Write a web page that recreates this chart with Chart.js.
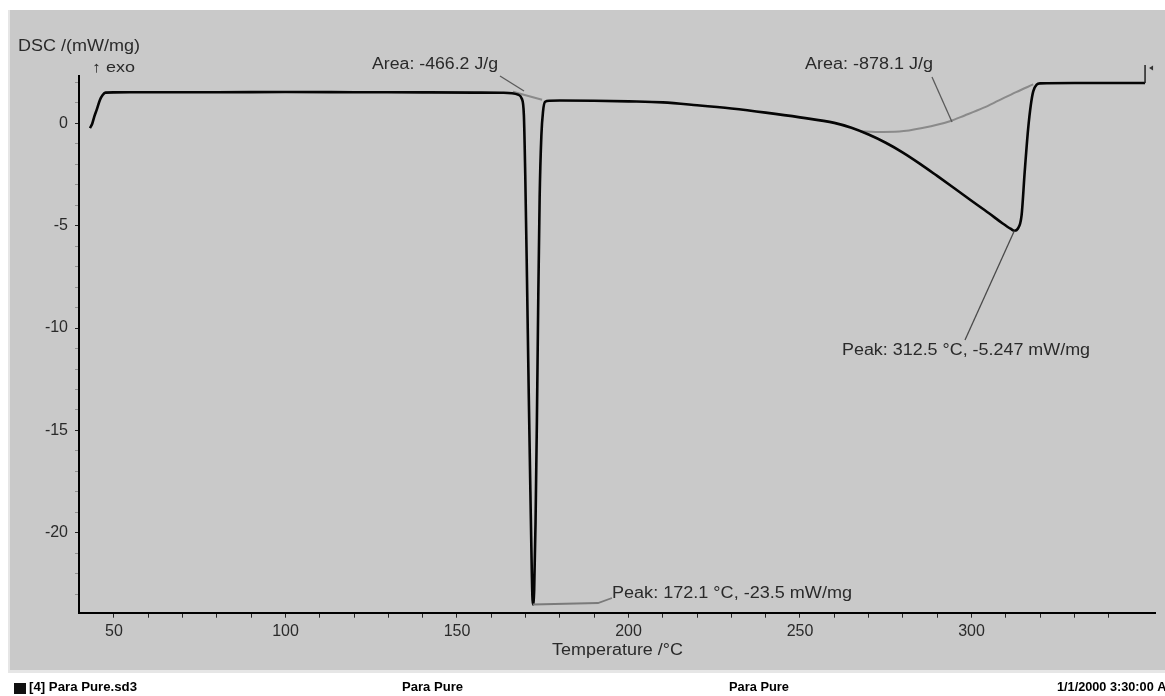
<!DOCTYPE html>
<html>
<head>
<meta charset="utf-8">
<title>DSC - Para Pure</title>
<script src="https://cdn.jsdelivr.net/npm/chart.js@4.4.1/dist/chart.umd.min.js"></script>
<style>
  html, body { margin: 0; padding: 0; background: #fff; overflow: hidden; }
  #dsc { display: block; }
</style>
</head>
<body>
<canvas id="dsc" width="1165" height="696"></canvas>
<script>
"use strict";

// measured DSC curve (temperature in °C, DSC in mW/mg)
const curveTemp = [43.0, 43.6, 44.3, 45.0, 45.9, 46.7, 47.5, 50, 60, 80, 100, 120, 140, 155, 163, 166,
  167.8, 168.9, 169.5, 169.9, 170.4, 170.9, 171.4, 171.8, 172.1, 172.5, 172.9, 173.3, 173.7, 174.1,
  174.6, 175.1, 175.7, 177, 180, 190, 200, 210, 220, 230, 240, 250, 260, 265, 270, 275, 280, 285, 290,
  295, 300, 305, 309, 311.5, 312.5, 313.5, 314.6, 315.5, 316.5, 317.3, 318, 319, 320, 330, 340, 350.6];
const curveDsc = [-0.23, -0.05, 0.35, 0.68, 1.14, 1.38, 1.5, 1.51, 1.52, 1.52, 1.53, 1.52, 1.51, 1.5, 1.49, 1.47,
  1.4, 1.2, 0.4, -2.5, -7.5, -13, -18, -21.8, -23.5, -22.8, -19.5, -14.5, -8.5, -3.6,
  -0.6, 0.6, 1.05, 1.1, 1.11, 1.1, 1.07, 1.02, 0.88, 0.72, 0.52, 0.29, 0.02, -0.22, -0.55, -0.95, -1.43, -1.98, -2.57,
  -3.17, -3.78, -4.38, -4.88, -5.16, -5.247, -5.15, -4.5, -2.4, -0.3, 0.9, 1.56, 1.89, 1.95, 1.97, 1.97, 1.97];

// integration baselines of the two peaks
const base1Temp = [166.3, 174.8];
const base1Dsc = [1.54, 1.15];
const base2Temp = [267.5, 272, 279, 286, 293.7, 298, 303.4, 308, 313, 318];
const base2Dsc = [-0.39, -0.42, -0.4, -0.22, 0.1, 0.38, 0.75, 1.12, 1.52, 1.9];

// axis ticks
const xTicks = [50, 60, 70, 80, 90, 100, 110, 120, 130, 140, 150, 160, 170, 180, 190, 200, 210, 220,
  230, 240, 250, 260, 270, 280, 290, 300, 310, 320, 330, 340];
const xLabels = [50, 100, 150, 200, 250, 300];
const yTicks = [-23, -22, -21, -20, -19, -18, -17, -16, -15, -14, -13, -12, -11, -10, -9, -8, -7, -6,
  -5, -4, -3, -2, -1, 0, 1, 2];
const yLabels = [0, -5, -10, -15, -20];

const FONT = "'Liberation Sans', Arial, sans-serif";
const TEXT = "#2a2a2a";

const toPoints = (xs, ys) => xs.map((x, i) => ({ x, y: ys[i] }));

function fitText(ctx, text, left, cy, width, font) {
  ctx.save();
  ctx.font = font;
  const w = ctx.measureText(text).width;
  ctx.translate(left, cy);
  ctx.scale(width / w, 1);
  ctx.textBaseline = "middle";
  ctx.textAlign = "left";
  ctx.fillText(text, 0, 0);
  ctx.restore();
}

function line(ctx, pts, color, width) {
  ctx.save();
  ctx.strokeStyle = color;
  ctx.lineWidth = width;
  ctx.beginPath();
  pts.forEach(([x, y], i) => (i ? ctx.lineTo(x, y) : ctx.moveTo(x, y)));
  ctx.stroke();
  ctx.restore();
}

const panel = {
  id: "panel",
  beforeDraw(chart) {
    const ctx = chart.ctx;
    ctx.save();
    ctx.fillStyle = "#ffffff";
    ctx.fillRect(0, 0, chart.width, chart.height);
    ctx.fillStyle = "#c9c9c9";
    ctx.fillRect(8, 10, chart.width - 8, 660);
    ctx.fillStyle = "#e6e6e6";
    ctx.fillRect(8, 10, 2, 662);
    ctx.fillRect(8, 670, chart.width - 8, 3);
    ctx.restore();
  },
  afterDatasetsDraw(chart) {
    const ctx = chart.ctx;
    const { x, y } = chart.scales;
    const px = (t, v) => [x.getPixelForValue(t), y.getPixelForValue(v)];

    // leader lines
    line(ctx, [[500, 76], [524, 91]], "#5a5a5a", 1.3);
    line(ctx, [[932, 77], [952, 122]], "#5a5a5a", 1.3);
    line(ctx, [px(312.5, -5.247), [965, 340]], "#4a4a4a", 1.3);
    line(ctx, [px(172.1, -23.5), [598, 603], [612, 598]], "#7a7a7a", 1.8);

    // end of measurement marker
    const end = px(curveTemp[curveTemp.length - 1], curveDsc[curveDsc.length - 1]);
    line(ctx, [end, [end[0], 65]], "#222", 1.5);
    ctx.save();
    ctx.fillStyle = "#333";
    ctx.beginPath();
    ctx.moveTo(end[0] + 4, 68);
    ctx.lineTo(end[0] + 8, 65.5);
    ctx.lineTo(end[0] + 8, 70.5);
    ctx.closePath();
    ctx.fill();
    ctx.restore();

    ctx.fillStyle = TEXT;
    fitText(ctx, "DSC /(mW/mg)", 18, 47, 122, "16px " + FONT);
    fitText(ctx, "\u2191 exo", 92, 68, 43, "15px " + FONT);
    fitText(ctx, "Area: -466.2 J/g", 372, 65, 126, "16px " + FONT);
    fitText(ctx, "Area: -878.1 J/g", 805, 65, 128, "16px " + FONT);
    fitText(ctx, "Peak: 312.5 \u00b0C, -5.247 mW/mg", 842, 351, 248, "16px " + FONT);
    fitText(ctx, "Peak: 172.1 \u00b0C, -23.5 mW/mg", 612, 594, 240, "16px " + FONT);
    fitText(ctx, "Temperature /\u00b0C", 552, 651, 131, "16px " + FONT);

    // status bar
    ctx.fillStyle = "#111";
    ctx.fillRect(14, 683, 12, 11);
    ctx.fillStyle = "#000";
    fitText(ctx, "[4] Para Pure.sd3", 29, 688, 108, "bold 12px " + FONT);
    fitText(ctx, "Para Pure", 402, 688, 61, "bold 12px " + FONT);
    fitText(ctx, "Para Pure", 729, 688, 60, "bold 12px " + FONT);
    fitText(ctx, "1/1/2000 3:30:00 AM", 1057, 688, 120, "bold 12px " + FONT);
  }
};

new Chart(document.getElementById("dsc"), {
  type: "line",
  data: {
    datasets: [
      {
        data: toPoints(curveTemp, curveDsc),
        borderColor: "#050505",
        borderWidth: 2.6,
        pointRadius: 0,
        cubicInterpolationMode: "monotone"
      },
      {
        data: toPoints(base1Temp, base1Dsc),
        borderColor: "#8a8a8a",
        borderWidth: 2,
        pointRadius: 0
      },
      {
        data: toPoints(base2Temp, base2Dsc),
        borderColor: "#8a8a8a",
        borderWidth: 2,
        pointRadius: 0,
        cubicInterpolationMode: "monotone"
      }
    ]
  },
  options: {
    responsive: false,
    devicePixelRatio: 1,
    animation: false,
    layout: { padding: { top: 76, right: 10, left: 0, bottom: 0 } },
    plugins: { legend: { display: false }, tooltip: { enabled: false } },
    scales: {
      x: {
        type: "linear",
        min: 39.8,
        max: 353.5,
        afterFit: scale => { scale.height = 83.3; },
        afterBuildTicks: scale => { scale.ticks = xTicks.map(value => ({ value })); },
        border: { display: true, color: "#000", width: 2 },
        grid: { drawOnChartArea: false, drawTicks: true, tickLength: 5, color: "#222" },
        ticks: {
          autoSkip: false,
          maxRotation: 0,
          padding: 4,
          color: TEXT,
          font: { family: FONT, size: 16 },
          callback: v => (xLabels.includes(v) ? String(v) : "")
        }
      },
      y: {
        min: -23.9,
        max: 2.31,
        afterFit: scale => { scale.width = 79; },
        afterBuildTicks: scale => { scale.ticks = yTicks.map(value => ({ value })); },
        border: { display: true, color: "#000", width: 2 },
        grid: {
          drawOnChartArea: false,
          drawTicks: true,
          tickLength: 4,
          color: ctx => (yLabels.includes(ctx.tick?.value) ? "#222" : "rgba(40,40,40,0.35)")
        },
        ticks: {
          autoSkip: false,
          padding: 7,
          color: TEXT,
          font: { family: FONT, size: 16 },
          callback: v => (yLabels.includes(v) ? String(v) : "")
        }
      }
    }
  },
  plugins: [panel]
});
</script>
</body>
</html>
